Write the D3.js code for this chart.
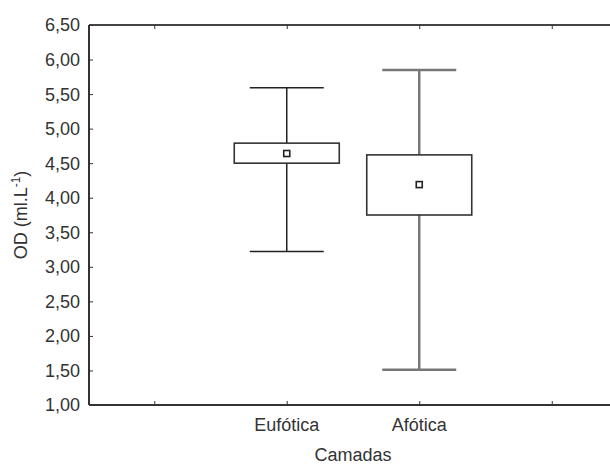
<!DOCTYPE html>
<html>
<head>
<meta charset="utf-8">
<script src="https://cdn.jsdelivr.net/npm/d3@7"></script>
<style>
  body { margin: 0; background: #fff; }
  svg text { font-family: "Liberation Sans", Arial, sans-serif; fill: #333; }
</style>
</head>
<body>
<svg id="chart" width="610" height="465"></svg>
<script>
// positions on the x axis (first and last are empty slots)
const categories = ["", "Eufótica", "Afótica", " "];
const boxNames = ["Eufótica", "Afótica"];
const whiskerLow = [3.22, 1.51];
const whiskerHigh = [5.59, 5.85];
const boxLow = [4.50, 3.75];
const boxHigh = [4.79, 4.62];
const means = [4.64, 4.19];
const yTicks = [1.0, 1.5, 2.0, 2.5, 3.0, 3.5, 4.0, 4.5, 5.0, 5.5, 6.0, 6.5];

const svg = d3.select("#chart");
const margin = { left: 89, top: 25, bottom: 60 };
const height = 465;
const bottom = height - margin.bottom;

const x = d3.scaleBand().domain(categories).range([88, 618]);
const y = d3.scaleLinear().domain([1, 6.5]).range([bottom, margin.top]);
const fmt = v => d3.format(".2f")(v).replace(".", ",");

// frame: left, top and bottom lines
svg.append("line").attr("x1", margin.left).attr("x2", margin.left)
  .attr("y1", margin.top).attr("y2", bottom).attr("stroke", "#333").attr("stroke-width", 2);
svg.append("line").attr("x1", margin.left).attr("x2", 610)
  .attr("y1", margin.top).attr("y2", margin.top).attr("stroke", "#444").attr("stroke-width", 2);
svg.append("line").attr("x1", margin.left).attr("x2", 610)
  .attr("y1", bottom).attr("y2", bottom).attr("stroke", "#333").attr("stroke-width", 2);

// y axis (ticks inside)
const yAxis = svg.append("g")
  .attr("transform", `translate(${margin.left},0)`)
  .call(d3.axisRight(y).tickValues(yTicks).tickSize(4).tickFormat(""));
yAxis.select(".domain").remove();
yAxis.selectAll(".tick line").attr("stroke", "#333");

svg.append("g").selectAll("text")
  .data(yTicks)
  .enter().append("text")
  .attr("x", 80)
  .attr("y", d => y(d))
  .attr("dy", "0.36em")
  .attr("text-anchor", "end")
  .attr("font-size", 18)
  .text(fmt);

// x axis ticks at bottom (pointing up) and top (pointing down)
const centers = categories.map(c => x(c) + x.bandwidth() / 2);
const xBottom = svg.append("g")
  .attr("transform", `translate(0,${bottom})`)
  .call(d3.axisTop(d3.scaleIdentity()).tickValues(centers).tickSize(4).tickFormat(""));
xBottom.select(".domain").remove();
xBottom.selectAll(".tick line").attr("stroke", "#333");
const xTop = svg.append("g")
  .attr("transform", `translate(0,${margin.top})`)
  .call(d3.axisBottom(d3.scaleIdentity()).tickValues(centers).tickSize(4).tickFormat(""));
xTop.select(".domain").remove();
xTop.selectAll(".tick line").attr("stroke", "#333");

svg.append("g").selectAll("text")
  .data(boxNames)
  .enter().append("text")
  .attr("x", d => x(d) + x.bandwidth() / 2)
  .attr("y", 431)
  .attr("text-anchor", "middle")
  .attr("font-size", 18)
  .text(d => d);

// axis titles
svg.append("text")
  .attr("x", 353).attr("y", 461)
  .attr("text-anchor", "middle")
  .attr("font-size", 18)
  .text("Camadas");

const yl = svg.append("text")
  .attr("transform", `translate(27,${(margin.top + bottom) / 2}) rotate(-90)`)
  .attr("text-anchor", "middle")
  .attr("font-size", 18);
yl.append("tspan").text("OD (ml.L");
yl.append("tspan").attr("font-size", 12).attr("dy", "-0.6em").text("-1");
yl.append("tspan").attr("dy", "0.4em").text(")");

// boxes
const boxW = 105, capW = 74;
const lineColor = ["#222", "#777"];
const lineWidth = [1.5, 2.5];
const g = svg.append("g");
boxNames.forEach((name, i) => {
  const cx = x(name) + x.bandwidth() / 2;
  // whiskers
  g.append("line").attr("x1", cx).attr("x2", cx)
    .attr("y1", y(whiskerHigh[i])).attr("y2", y(boxHigh[i]))
    .attr("stroke", lineColor[i]).attr("stroke-width", lineWidth[i]);
  g.append("line").attr("x1", cx).attr("x2", cx)
    .attr("y1", y(boxLow[i])).attr("y2", y(whiskerLow[i]))
    .attr("stroke", lineColor[i]).attr("stroke-width", lineWidth[i]);
  [whiskerHigh[i], whiskerLow[i]].forEach(v => {
    g.append("line").attr("x1", cx - capW / 2).attr("x2", cx + capW / 2)
      .attr("y1", y(v)).attr("y2", y(v))
      .attr("stroke", lineColor[i]).attr("stroke-width", lineWidth[i]);
  });
  g.append("rect")
    .attr("x", cx - boxW / 2).attr("width", boxW)
    .attr("y", y(boxHigh[i])).attr("height", y(boxLow[i]) - y(boxHigh[i]))
    .attr("fill", "#fff").attr("stroke", "#333").attr("stroke-width", 1.6);
  g.append("rect")
    .attr("x", cx - 3).attr("y", y(means[i]) - 3)
    .attr("width", 6).attr("height", 6)
    .attr("fill", "#fff").attr("stroke", "#222").attr("stroke-width", 1.6);
});
</script>
</body>
</html>
